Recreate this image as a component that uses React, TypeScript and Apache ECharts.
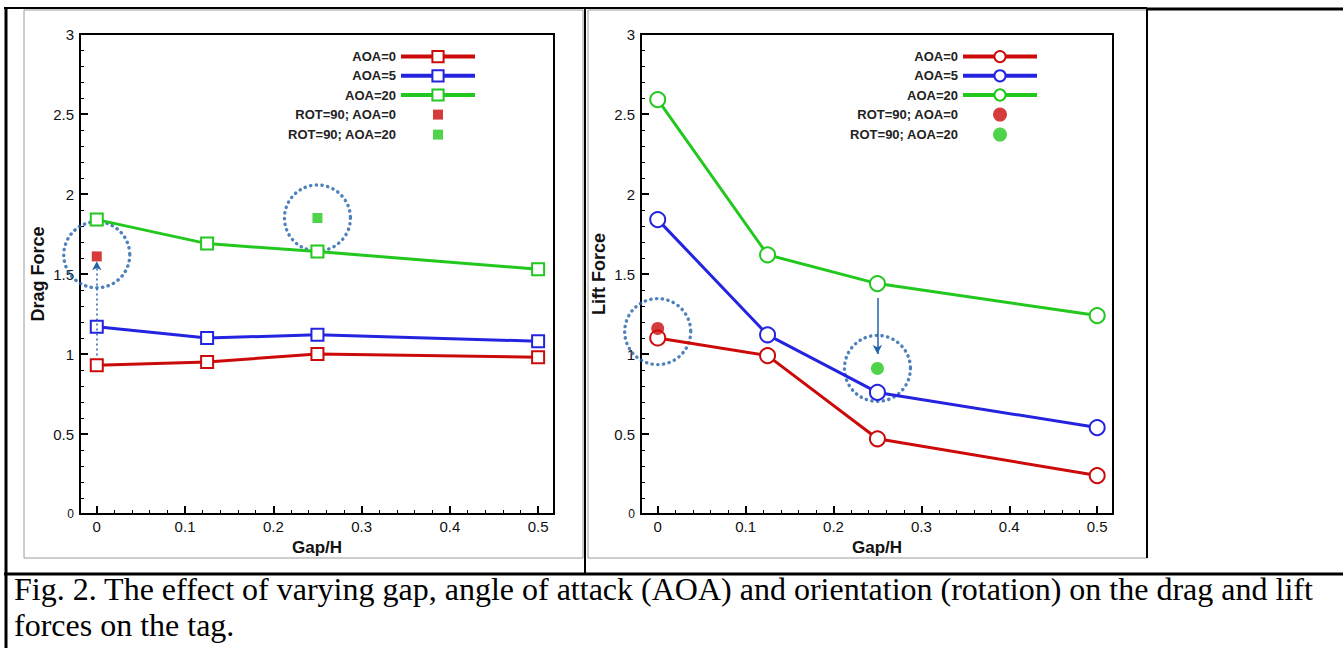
import React, { useEffect, useRef } from 'react';
import * as echarts from 'echarts';

// ---------- data ----------
const gapValues = [0, 0.125, 0.25, 0.5];

const dragAOA0 = [0.93, 0.95, 1.0, 0.98];
const dragAOA5 = [1.17, 1.1, 1.12, 1.08];
const dragAOA20 = [1.84, 1.69, 1.64, 1.53];
const dragRotAOA0: number[][] = [[0, 1.61]];
const dragRotAOA20: number[][] = [[0.25, 1.85]];
const dragHighlights: number[][] = [[0, 1.62], [0.25, 1.85]];
const dragArrow: number[][] = [[0, 0.99], [0, 1.58]];

const liftAOA0 = [1.1, 0.99, 0.47, 0.24];
const liftAOA5 = [1.84, 1.12, 0.76, 0.54];
const liftAOA20 = [2.59, 1.62, 1.44, 1.24];
const liftRotAOA0: number[][] = [[0, 1.16]];
const liftRotAOA20: number[][] = [[0.25, 0.91]];
const liftHighlights: number[][] = [[0, 1.14], [0.25, 0.91]];
const liftArrow: number[][] = [[0.25, 1.35], [0.25, 1.0]];

const legendNames = ['AOA=0', 'AOA=5', 'AOA=20', 'ROT=90; AOA=0', 'ROT=90; AOA=20'];
const yTitles = ['Drag Force', 'Lift Force'];
const xTitle = 'Gap/H';
const captionLines = [
  'Fig. 2. The effect of varying gap, angle of attack (AOA) and orientation (rotation) on the drag and lift',
  'forces on the tag.',
];

// ---------- style ----------
const RED = '#cc0a0a';
const BLUE = '#2424e0';
const GREEN = '#22c81e';
const ANNO = '#2362aa';
const SANS = '"Liberation Sans", Arial, Helvetica, sans-serif';
const SERIF = '"Liberation Serif", "Times New Roman", serif';
// padded square for legend icons (bbox 14x14, square 10x10)
const LEGEND_SQUARE = 'path://M0,0L0,0M14,14L14,14M2,2H12V12H2Z';

const zip = (vals: number[]) => gapValues.map((g, i) => [g, vals[i]]);

function lineSeries(prefix: string, name: string, vals: number[], color: string, symbol: string, size: number, idx: number) {
  return {
    type: 'line',
    name: prefix + name,
    xAxisIndex: idx,
    yAxisIndex: idx,
    data: zip(vals),
    symbol,
    symbolSize: size,
    showSymbol: true,
    lineStyle: { color, width: 3 },
    itemStyle: { color, borderColor: color, borderWidth: 2 },
    z: 4,
  };
}

function pointSeries(prefix: string, name: string, data: number[][], color: string, symbol: string, size: number, idx: number) {
  return {
    type: 'scatter',
    name: prefix + name,
    xAxisIndex: idx,
    yAxisIndex: idx,
    data,
    symbol,
    symbolSize: size,
    itemStyle: { color },
    z: 5,
  };
}

function highlightSeries(idx: number, data: number[][], arrow: number[][], dashed: boolean) {
  return {
    type: 'scatter',
    name: 'highlight' + idx,
    xAxisIndex: idx,
    yAxisIndex: idx,
    data,
    symbol: 'circle',
    symbolSize: 66,
    silent: true,
    itemStyle: {
      color: 'rgba(0,0,0,0)',
      borderColor: ANNO,
      borderWidth: 3.4,
      borderType: [0.3, 5.4],
      borderCap: 'round',
    },
    z: 3,
    markLine: {
      silent: true,
      symbol: ['none', 'arrow'],
      symbolSize: [7, 9],
      label: { show: false },
      lineStyle: { color: ANNO, width: 1.5, type: dashed ? [2, 3] : 'solid' },
      data: [[{ coord: arrow[0] }, { coord: arrow[1] }]],
    },
  };
}

const xLabelFormatter = (v: number) => {
  const t = v * 10;
  return Math.abs(t - Math.round(t)) < 1e-6 ? String(Math.round(t) / 10) : '';
};

function xAxis(idx: number) {
  return {
    type: 'value',
    gridIndex: idx,
    min: -0.019,
    max: 0.518,
    splitNumber: 5,
    name: xTitle,
    nameLocation: 'middle',
    nameGap: 21,
    nameTextStyle: { fontFamily: SANS, fontSize: 17, fontWeight: 'bold', color: '#111' },
    axisLine: { show: true, onZero: false, lineStyle: { color: '#000', width: 2 } },
    axisTick: { show: true, inside: true, length: 8, lineStyle: { color: '#000', width: 2 } },
    minorTick: { show: true, splitNumber: 5, length: 4, lineStyle: { color: '#000', width: 1 } },
    splitLine: { show: false },
    axisLabel: { fontFamily: SANS, fontSize: 15, color: '#111', margin: 5, formatter: xLabelFormatter },
  };
}

function yAxis(idx: number) {
  return {
    type: 'value',
    gridIndex: idx,
    min: 0,
    max: 3,
    interval: 0.5,
    name: yTitles[idx],
    nameLocation: 'middle',
    nameGap: 33,
    nameTextStyle: { fontFamily: SANS, fontSize: 18, fontWeight: 'bold', color: '#111' },
    axisLine: { show: true, onZero: false, lineStyle: { color: '#000', width: 2 } },
    axisTick: { show: true, inside: true, length: 8, lineStyle: { color: '#000', width: 2 } },
    minorTick: { show: true, splitNumber: 5, length: 4, lineStyle: { color: '#000', width: 1 } },
    splitLine: { show: false },
    axisLabel: {
      fontFamily: SANS,
      fontSize: 15,
      color: '#111',
      margin: 6,
      formatter: (v: number) => (v === 0 ? '{s|0}' : String(v)),
      rich: { s: { fontFamily: SANS, fontSize: 12, color: '#111' } },
    },
  };
}

function legend(prefix: string, right: number, squareIcons: boolean) {
  return {
    orient: 'vertical',
    right,
    top: 45,
    itemWidth: 74,
    itemHeight: 14,
    itemGap: 6,
    align: 'right',
    selectedMode: false,
    symbolKeepAspect: true,
    lineStyle: { width: 4 },
    data: legendNames.map((n, i) =>
      squareIcons && i >= 3 ? { name: prefix + n, icon: LEGEND_SQUARE } : { name: prefix + n }
    ),
    formatter: (name: string) => name.slice(prefix.length),
    textStyle: { fontFamily: SANS, fontSize: 13, fontWeight: 'bold', color: '#222' },
  };
}

const line = (x1: number, y1: number, x2: number, y2: number, w: number, c = '#000') => ({
  type: 'line',
  silent: true,
  shape: { x1, y1, x2, y2 },
  style: { stroke: c, lineWidth: w },
  z: 10,
});

const option = {
  animation: false,
  backgroundColor: '#fff',
  grid: [
    { left: 80, top: 34, width: 474, height: 480, show: true, borderColor: '#000', borderWidth: 2, backgroundColor: 'rgba(0,0,0,0)' },
    { left: 641, top: 34, width: 472, height: 480, show: true, borderColor: '#000', borderWidth: 2, backgroundColor: 'rgba(0,0,0,0)' },
  ],
  xAxis: [xAxis(0), xAxis(1)],
  yAxis: [yAxis(0), yAxis(1)],
  legend: [legend('D:', 861, true), legend('L:', 299, false)],
  series: [
    highlightSeries(0, dragHighlights, dragArrow, true),
    lineSeries('D:', 'AOA=0', dragAOA0, RED, 'emptyRect', 12, 0),
    lineSeries('D:', 'AOA=5', dragAOA5, BLUE, 'emptyRect', 12, 0),
    lineSeries('D:', 'AOA=20', dragAOA20, GREEN, 'emptyRect', 12, 0),
    pointSeries('D:', 'ROT=90; AOA=0', dragRotAOA0, RED, 'rect', 10, 0),
    pointSeries('D:', 'ROT=90; AOA=20', dragRotAOA20, GREEN, 'rect', 10, 0),
    highlightSeries(1, liftHighlights, liftArrow, false),
    lineSeries('L:', 'AOA=0', liftAOA0, RED, 'emptyCircle', 15, 1),
    lineSeries('L:', 'AOA=5', liftAOA5, BLUE, 'emptyCircle', 15, 1),
    lineSeries('L:', 'AOA=20', liftAOA20, GREEN, 'emptyCircle', 15, 1),
    pointSeries('L:', 'ROT=90; AOA=0', liftRotAOA0, RED, 'circle', 13, 1),
    pointSeries('L:', 'ROT=90; AOA=20', liftRotAOA20, GREEN, 'circle', 13, 1),
  ],
  graphic: [
    // image frames
    { type: 'rect', silent: true, shape: { x: 24, y: 10, width: 559, height: 548 }, style: { fill: 'none', stroke: '#9a9a9a', lineWidth: 1 }, z: 9 },
    { type: 'rect', silent: true, shape: { x: 588, y: 10, width: 559, height: 548 }, style: { fill: 'none', stroke: '#9a9a9a', lineWidth: 1 }, z: 9 },
    line(1147, 9, 1147, 558, 2),
    // table lines
    line(4, 8, 1147, 8, 2),
    line(1147, 9, 1343, 9, 3),
    line(6, 7, 6, 648, 3),
    line(585, 8, 585, 574, 2),
    line(4, 574, 1343, 574, 3),
    // caption (one text block, two lines)
    {
      type: 'text', silent: true, x: 14, y: 571,
      style: {
        text: captionLines.join('\n'),
        fontFamily: SERIF,
        fontSize: 32,
        lineHeight: 36,
        fill: '#000',
        verticalAlign: 'top',
        align: 'left',
      },
      z: 10,
    },
  ],
};

export default function App() {
  const ref = useRef<HTMLDivElement>(null);
  useEffect(() => {
    if (!ref.current) return;
    const chart = echarts.init(ref.current, null, { renderer: 'svg' });
    chart.setOption(option as any);
    return () => chart.dispose();
  }, []);
  return (
    <div
      ref={ref}
      style={{ position: 'fixed', left: 0, top: 0, width: 1343, height: 648, background: '#fff' }}
    />
  );
}
